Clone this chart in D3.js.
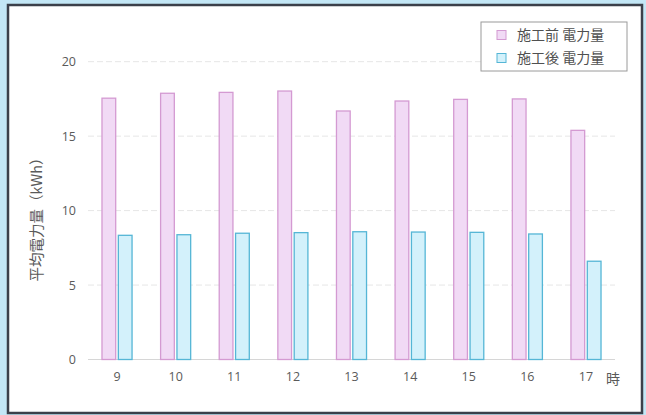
<!DOCTYPE html>
<html><head><meta charset="utf-8">
<script src="https://cdn.jsdelivr.net/npm/d3@7"></script>
<style>
html,body{margin:0;padding:0;background:#c3e7f6;}
svg{display:block;}
text{font-family:"Noto Sans CJK JP","Noto Sans",sans-serif;}
</style></head>
<body>
<script>
const hours = ["9","10","11","12","13","14","15","16","17"];
const seriesNames = ["施工前 電力量","施工後 電力量"];
const before = [17.55, 17.88, 17.94, 18.03, 16.69, 17.36, 17.47, 17.5, 15.39];
const after  = [8.34, 8.38, 8.48, 8.52, 8.58, 8.56, 8.54, 8.43, 6.6];
const yTicks = [0, 5, 10, 15, 20];
const yTitle = "平均電力量（kWh）";
const xUnit = "時";

const fills = ["#f1daf5", "#d3f1fb"];
const strokes = ["#d49ad2", "#55b6d6"];

const W = 646, H = 415;
const svg = d3.select("body").append("svg").attr("width", W).attr("height", H);

// frame
svg.append("rect").attr("x",0).attr("y",0).attr("width",W).attr("height",H).attr("fill","#c3e7f6");
svg.append("rect").attr("x",8).attr("y",5).attr("width",634).attr("height",408)
  .attr("fill","#ffffff").attr("stroke","#3b404a").attr("stroke-width",2.5);

const x = d3.scaleBand().domain(hours).range([88, 615]).paddingInner(0.47).paddingOuter(0.23);
const xs = d3.scaleBand().domain([0,1]).range([0, x.bandwidth()]).paddingInner(0.1);
const y = d3.scaleLinear().domain([0, 20]).range([359.5, 61.7]);

// gridlines
svg.append("g").selectAll("line").data(yTicks).join("line")
  .attr("x1", 88).attr("x2", 615)
  .attr("y1", d => y(d)).attr("y2", d => y(d))
  .attr("stroke", d => d === 0 ? "#d6d6d6" : "#e6e6e6")
  .attr("stroke-width", 1)
  .attr("stroke-dasharray", d => d === 0 ? null : "6,3");

// y tick labels
const yAxis = d3.axisLeft(y).tickValues(yTicks).tickSize(0).tickPadding(0);
const gy = svg.append("g").attr("transform", "translate(76,0)").call(yAxis);
gy.select(".domain").remove();
gy.selectAll("text").attr("fill","#5a5a5a").style("font-size","12.5px").style("font-family","'Open Sans','Noto Sans',sans-serif");

// x tick labels
const xAxis = d3.axisBottom(x).tickSize(0).tickPadding(0);
const gx = svg.append("g").attr("transform", "translate(0,372)").call(xAxis);
gx.select(".domain").remove();
gx.selectAll("text").attr("fill","#5a5a5a").style("font-size","12.5px").style("font-family","'Open Sans','Noto Sans',sans-serif");

svg.append("text").attr("x", 613).attr("y", 384).attr("text-anchor","middle")
  .attr("fill","#5a5a5a").style("font-size","14px").text(xUnit);

// bars
const data = [before, after];
data.forEach((vals, si) => {
  svg.append("g").selectAll("rect").data(vals).join("rect")
    .attr("x", (d,i) => x(hours[i]) + xs(si) + 0.5)
    .attr("y", d => y(d))
    .attr("width", xs.bandwidth() - 1)
    .attr("height", d => y(0) - y(d))
    .attr("fill", fills[si])
    .attr("stroke", strokes[si])
    .attr("stroke-width", 1.3);
});

// y title
svg.append("text").attr("transform", "translate(42,216) rotate(-90)")
  .attr("text-anchor","middle").attr("fill","#5a5a5a").style("font-size","14.5px").text(yTitle);

// legend
const lg = svg.append("g");
lg.append("rect").attr("x",481).attr("y",22).attr("width",146).attr("height",49)
  .attr("fill","#ffffff").attr("stroke","#9a9a9a").attr("stroke-width",1);
seriesNames.forEach((n, i) => {
  const cy = 35 + i * 23;
  lg.append("rect").attr("x",497).attr("y",cy-4.5).attr("width",9).attr("height",9)
    .attr("fill",fills[i]).attr("stroke",strokes[i]).attr("stroke-width",1);
  lg.append("text").attr("x",517).attr("y",cy).attr("dy","0.35em")
    .attr("fill","#505050").style("font-size","14px").text(n);
});
</script>
</body></html>
